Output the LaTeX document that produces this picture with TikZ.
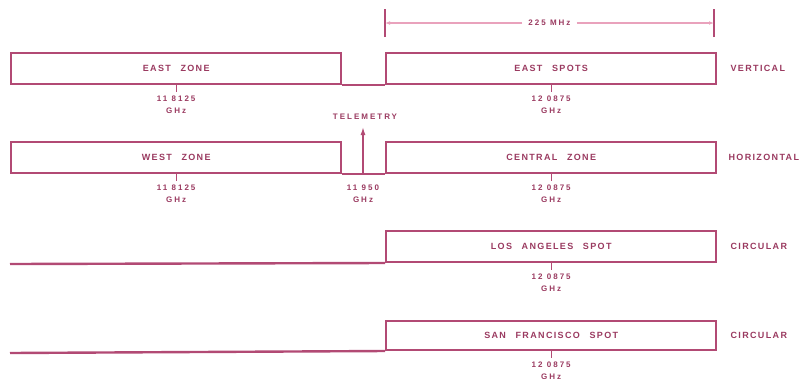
\documentclass[tikz,border=0pt]{standalone}
\usepackage{fontspec}
\usepackage{xcolor}
\usetikzlibrary{positioning, arrows.meta, calc}
\newfontfamily\lblfont[LetterSpace=15, WordSpace=2.5]{Liberation Sans}
\newfontfamily\numfont[LetterSpace=25]{Liberation Sans}
\definecolor{cInk}{HTML}{B24A74}
\definecolor{cText}{HTML}{9A3A60}
\definecolor{cDim}{HTML}{E9A2BC}
\tikzset{
  band/.style     ={draw=cInk, line width=2.4pt, anchor=south west, minimum width=330pt,
                    minimum height=31pt, inner sep=0pt, font=\lblfont\bfseries\fontsize{9}{10}\selectfont,
                    text=cText},
  base/.style     ={draw=cInk, line width=2.4pt},
  tick/.style     ={draw=cInk, line width=1.4pt},
  freq/.style     ={font=\numfont\bfseries\fontsize{8}{12}\selectfont, text=cText, align=center,
                    inner sep=0pt},
  pol/.style      ={font=\lblfont\bfseries\fontsize{9}{10}\selectfont, text=cText, anchor=west,
                    inner sep=0pt},
  dimline/.style  ={draw=cDim, line width=1.4pt},
  up/.style       ={-{Latex[length=8pt, width=5pt]}, draw=cInk, line width=1.4pt}
}

\begin{document}
\begin{tikzpicture}[x=1pt, y=-1pt, node distance=4pt]
  \useasboundingbox (0,0) rectangle (804,384);

  % ====================== Vertical ======================
  \node[band] (eastzone)  at (10,85)  {EAST ZONE};
  \node[band] (eastspots) at (385,85) {EAST SPOTS};
  \draw[base] (eastzone.south east) -- (eastspots.south west);
  \node[pol, right=13pt of eastspots.east] (vert) {VERTICAL};

  \draw[tick] (eastzone.south) -- ++(0,7) coordinate (ez-t);
  \node[freq, below=of ez-t] (ez-f) {11 8125\\GHz};
  \draw[tick] (eastspots.south) -- ++(0,7) coordinate (es-t);
  \node[freq, below=of es-t] (es-f) {12 0875\\GHz};

  % ====================== Horizontal ======================
  \node[band] (westzone)    at (10,174)  {WEST ZONE};
  \node[band] (centralzone) at (385,174) {CENTRAL ZONE};
  \draw[base] (westzone.south east) -- (centralzone.south west);
  \node[pol, right=11pt of centralzone.east] (horiz) {HORIZONTAL};

  \draw[tick] (westzone.south) -- ++(0,7) coordinate (wz-t);
  \node[freq, below=of wz-t] (wz-f) {11 8125\\GHz};
  \draw[tick] (centralzone.south) -- ++(0,7) coordinate (cz-t);
  \node[freq, below=of cz-t] (cz-f) {12 0875\\GHz};

  % telemetry beacon
  \coordinate (tlm-base) at (363,174);
  \node[freq, anchor=south] (tlm) at (365,120) {TELEMETRY};
  \draw[up] (tlm-base) -- ([yshift=-7pt]tlm.south -| tlm-base);
  \node[freq, below=11pt of tlm-base] (tlm-f) {11 950\\GHz};

  % ====================== Circular ======================
  \node[band] (laspot) at (385,263) {LOS ANGELES SPOT};
  \coordinate (la-start) at (10,264);
  \draw[base] (la-start) -- (laspot.south west);
  \node[pol, right=13pt of laspot.east] (circ1) {CIRCULAR};
  \draw[tick] (laspot.south) -- ++(0,7) coordinate (la-t);
  \node[freq, below=of la-t] (la-f) {12 0875\\GHz};

  \node[band, minimum height=29pt] (sfspot) at (385,351) {SAN FRANCISCO SPOT};
  \coordinate (sf-start) at (10,353);
  \draw[base] (sf-start) -- (sfspot.south west);
  \node[pol, right=13pt of sfspot.east] (circ2) {CIRCULAR};
  \draw[tick] (sfspot.south) -- ++(0,7) coordinate (sf-t);
  \node[freq, below=of sf-t] (sf-f) {12 0875\\GHz};

  % ====================== Bandwidth ======================
  \coordinate (dim-l) at (385,23);
  \coordinate (dim-r) at (714,23);
  \draw[tick] ([yshift=-14pt]dim-l) -- ([yshift=14pt]dim-l);
  \draw[tick] ([yshift=-14pt]dim-r) -- ([yshift=14pt]dim-r);
  \node[freq] (bw) at ($(dim-l)!0.5!(dim-r)$) {225 MHz};
  \draw[dimline, -{Latex[length=5pt]}] (bw.west) ++(-6pt,0) -- (dim-l);
  \draw[dimline, -{Latex[length=5pt]}] (bw.east) ++(6pt,0) -- (dim-r);
\end{tikzpicture}
\end{document}
